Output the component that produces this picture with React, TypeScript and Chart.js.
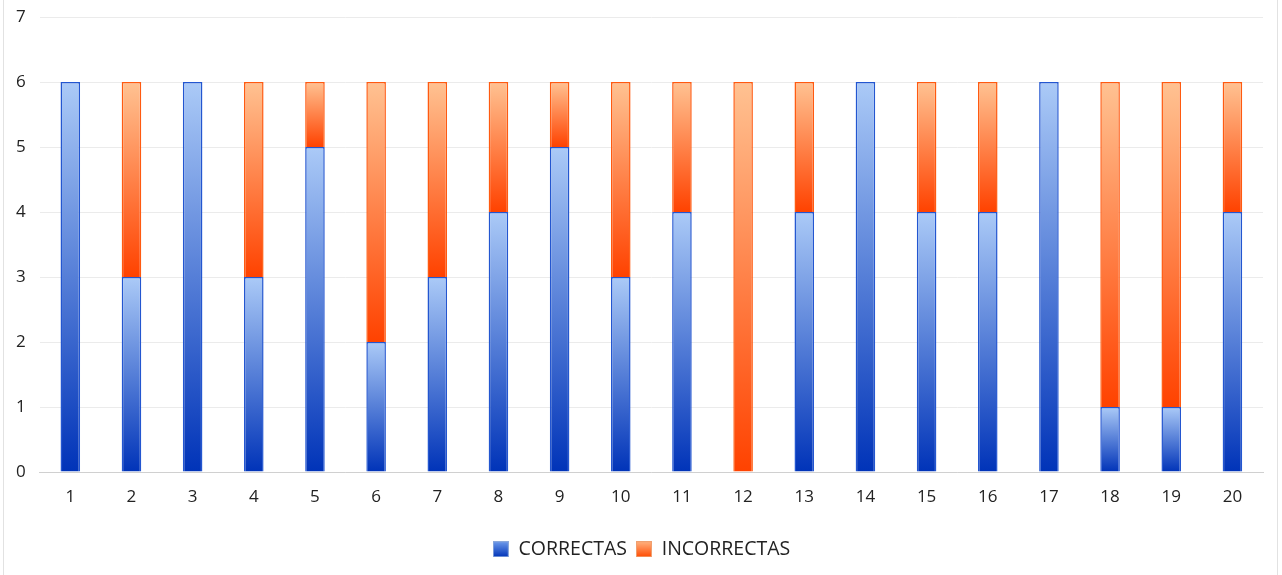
import React, { useEffect, useRef } from "react";
import { Chart, registerables } from "chart.js";

Chart.register(...registerables);

const categories = ["1","2","3","4","5","6","7","8","9","10","11","12","13","14","15","16","17","18","19","20"];
const correctas = [6,3,6,3,5,2,3,4,5,3,4,0,4,6,4,4,6,1,1,4];
const incorrectas = [0,3,0,3,1,4,3,2,1,3,2,6,2,0,2,2,0,5,5,2];
const seriesNames = ["CORRECTAS", "INCORRECTAS"];
const yTicks = [0,1,2,3,4,5,6,7];

const FONT = "'Open Sans', 'DejaVu Sans', sans-serif";

function makeGradient(chart: any, lo: number, hi: number, light: string, dark: string, fallback: string) {
  const y = chart.scales && chart.scales.y;
  if (!y || !chart.ctx) return fallback;
  const top = y.getPixelForValue(hi);
  const bottom = y.getPixelForValue(lo);
  if (!isFinite(top) || !isFinite(bottom) || top === bottom) return fallback;
  const g = chart.ctx.createLinearGradient(0, top, 0, bottom);
  g.addColorStop(0, light);
  g.addColorStop(1, dark);
  return g;
}

function legendSwatch(light: string, dark: string, border: string) {
  const c = document.createElement("canvas");
  c.width = 16;
  c.height = 16;
  const x = c.getContext("2d")!;
  const g = x.createLinearGradient(0, 0, 0, 16);
  g.addColorStop(0, light);
  g.addColorStop(1, dark);
  x.fillStyle = g;
  x.fillRect(0, 0, 16, 16);
  x.strokeStyle = border;
  x.lineWidth = 1;
  x.strokeRect(0.5, 0.5, 15, 15);
  return c;
}

const shiftLegend = {
  id: "shiftLegend",
  afterLayout(chart: any) {
    const lg = chart.legend;
    if (lg) {
      lg.left += 9;
      lg.right += 9;
    }
  },
};

export default function App() {
  const ref = useRef<HTMLCanvasElement>(null);
  useEffect(() => {
    document.body.style.margin = "0";
    const swBlue = legendSwatch("#6f9cec", "#0033b8", "#8aa8dc");
    const swOrange = legendSwatch("#ffb482", "#ff4a00", "#f0a070");
    const chart = new Chart(ref.current!, {
      type: "bar",
      data: {
        labels: categories,
        datasets: [
          {
            label: seriesNames[0],
            data: correctas,
            backgroundColor: (c: any) => {
              if (c.type !== "data") return "#2f66d6";
              const v = correctas[c.dataIndex];
              return makeGradient(c.chart, 0, v, "#abcaf7", "#0033b8", "#2f66d6");
            },
            borderColor: "#2356d0",
            borderWidth: 1.5,
            barPercentage: 0.64,
            categoryPercentage: 0.5,
          },
          {
            label: seriesNames[1],
            data: incorrectas,
            backgroundColor: (c: any) => {
              if (c.type !== "data") return "#ff7a30";
              const lo = correctas[c.dataIndex];
              const hi = lo + incorrectas[c.dataIndex];
              return makeGradient(c.chart, lo, hi, "#ffc292", "#ff4200", "#ff7a30");
            },
            borderColor: "#ff5a10",
            borderWidth: 1.5,
            barPercentage: 0.64,
            categoryPercentage: 0.5,
          },
        ],
      },
      options: {
        animation: false,
        responsive: false,
        maintainAspectRatio: false,
        layout: { padding: { left: 2, right: 19, top: 17, bottom: 6 } },
        plugins: {
          tooltip: { enabled: false },
          legend: {
            position: "bottom",
            labels: {
              font: { family: FONT, size: 19.5 },
              color: "#222",
              boxWidth: 16,
              boxHeight: 16,
              padding: 9,
              usePointStyle: true,
              generateLabels: () => [
                { text: seriesNames[0], pointStyle: swBlue, fillStyle: "#2f66d6", strokeStyle: "#2356d0", lineWidth: 1, hidden: false, datasetIndex: 0, fontColor: "#222" },
                { text: seriesNames[1], pointStyle: swOrange, fillStyle: "#ff7a30", strokeStyle: "#ff5a10", lineWidth: 1, hidden: false, datasetIndex: 1, fontColor: "#222" },
              ] as any,
            },
          },
        },
        scales: {
          x: {
            stacked: true,
            grid: { display: false },
            border: { display: true, color: "#d0d0d0" },
            ticks: { font: { family: FONT, size: 17 }, color: "#222", padding: 7 },
            afterFit: (s: any) => {
              s.height += 16;
            },
          },
          y: {
            stacked: true,
            min: 0,
            max: 7,
            afterBuildTicks: (axis: any) => {
              axis.ticks = yTicks.map((v) => ({ value: v }));
            },
            afterFit: (s: any) => {
              s.paddingTop = 0;
            },
            grid: { color: "#ebebeb", drawTicks: false },
            border: { display: false },
            ticks: { font: { family: FONT, size: 17 }, color: "#222", padding: 14 },
          },
        },
      },
      plugins: [shiftLegend],
    });
    return () => chart.destroy();
  }, []);
  return (
    <div style={{ position: "relative", width: 1282, height: 575, background: "#fff" }}>
      <div style={{ position: "absolute", left: 3, top: 0, width: 1275, height: 575, borderLeft: "1px solid #e2e2e2", borderRight: "1px solid #e2e2e2", boxSizing: "border-box" }} />
      <canvas ref={ref} width={1282} height={575} style={{ position: "absolute", left: 0, top: 0 }} />
    </div>
  );
}
